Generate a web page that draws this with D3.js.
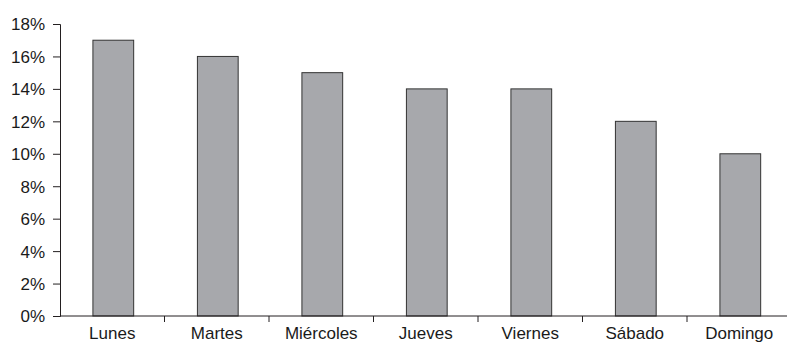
<!DOCTYPE html>
<html>
<head>
<meta charset="utf-8">
<script src="https://cdn.jsdelivr.net/npm/d3@7"></script>
<style>
body { margin: 0; background: #fff; }
text { font-family: "Liberation Sans", Arial, sans-serif; fill: #1a1a1a; }
</style>
</head>
<body>
<svg width="787" height="344"></svg>
<script>
var days = ["Lunes", "Martes", "Miércoles", "Jueves", "Viernes", "Sábado", "Domingo"];
var values = [17, 16, 15, 14, 14, 12, 10];
var yTicks = [0, 2, 4, 6, 8, 10, 12, 14, 16, 18];

var svg = d3.select("svg");
var margin = {left: 60, top: 24, bottom: 28};
var width = 731.5,  // axis runs past the right edge of the picture
	height = 344 - margin.top - margin.bottom;

var g = svg.append("g")
	.attr("transform", "translate(" + margin.left + "," + margin.top + ")");

var x = d3.scaleBand()
	.domain(days)
	.range([0, width]);

var y = d3.scaleLinear()
	.domain([0, 18])
	.range([height, 0]);

// bars
g.selectAll("rect.bar").data(values).enter()
	.append("rect")
	.attr("class", "bar")
	.attr("x", function(d, i){ return x(days[i]) + x.bandwidth() * 0.315; })
	.attr("width", x.bandwidth() * 0.39)
	.attr("y", function(d){ return y(d); })
	.attr("height", function(d){ return height - y(d); })
	.attr("fill", "#a7a8ac")
	.attr("stroke", "#333")
	.attr("stroke-width", 1);

// y axis
var yAxis = g.append("g")
	.call(d3.axisLeft(y).tickValues(yTicks).tickFormat(function(d){ return d + "%"; }).tickSize(7).tickPadding(8));
yAxis.selectAll("text").style("font-size", "17px").attr("dy", "0.35em");

// x axis with ticks on band boundaries
var xAxis = g.append("g")
	.attr("transform", "translate(0," + height + ")");
xAxis.append("line")
	.attr("x1", 0).attr("x2", width)
	.attr("stroke", "#231f20");
xAxis.selectAll("line.tick").data(days.slice(1)).enter()
	.append("line")
	.attr("class", "tick")
	.attr("x1", function(d){ return x(d); })
	.attr("x2", function(d){ return x(d); })
	.attr("y1", 0).attr("y2", 6)
	.attr("stroke", "#231f20");
xAxis.selectAll("text").data(days).enter()
	.append("text")
	.attr("x", function(d){ return x(d) + x.bandwidth() / 2; })
	.attr("y", 23)
	.attr("text-anchor", "middle")
	.style("font-size", "17px")
	.text(function(d){ return d; });

svg.selectAll(".domain, .tick line").attr("stroke", "#231f20");
</script>
</body>
</html>
